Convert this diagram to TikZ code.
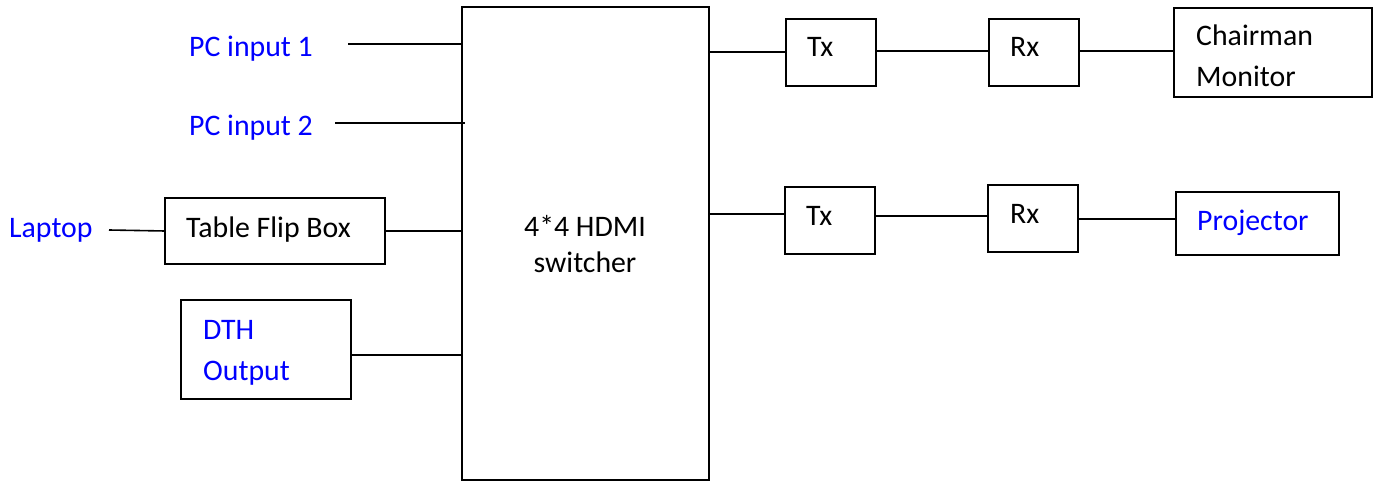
\documentclass[tikz,border=0pt]{standalone}
\usepackage{fontspec}
\setmainfont{Carlito}
\definecolor{lblblue}{RGB}{0,0,255}
\begin{document}
\begin{tikzpicture}[x=1pt,y=-1pt,
  box/.style={draw=black,line width=1.6pt,rectangle,inner sep=0pt,outer sep=0pt,anchor=north west},
  lbl/.style={anchor=base west,inner sep=0pt,font=\fontsize{29.8}{36}\selectfont},
  blue/.style={text=lblblue},
  wire/.style={line width=1.6pt,black}]
\useasboundingbox (0,0) rectangle (1380,481);
% boxes
\node[box,minimum width=247pt,minimum height=473pt] (sw) at (462,7) {};
\node[box,minimum width=220pt,minimum height=66pt] (tfb) at (165,198) {};
\node[box,minimum width=170pt,minimum height=99pt] (dth) at (181,300) {};
\node[box,minimum width=90pt,minimum height=67pt] (tx1) at (786,19) {};
\node[box,minimum width=90pt,minimum height=67pt] (tx2) at (785,187) {};
\node[box,minimum width=90pt,minimum height=67pt] (rx1) at (989,19) {};
\node[box,minimum width=90pt,minimum height=67pt] (rx2) at (988,185) {};
\node[box,minimum width=198pt,minimum height=89pt] (cm) at (1174,8) {};
\node[box,minimum width=163pt,minimum height=63pt] (pj) at (1176,192) {};
% labels
\node[lbl,blue] (pc1) at (189,57) {PC input 1};
\node[lbl,blue] (pc2) at (189,136) {PC input 2};
\node[lbl,blue] (lap) at (9,237) {Laptop};
\node[lbl] (tfbl) at (186,237) {Table Flip Box};
\node[lbl,blue] (dth1) at (203,339) {DTH};
\node[lbl,blue] (dth2) at (203,380) {Output};
\node[lbl,anchor=base] (swl1) at (585,236) {4*4 HDMI};
\node[lbl,anchor=base] (swl2) at (585,272) {switcher};
\node[lbl] (tx1l) at (807,57) {Tx};
\node[lbl] (tx2l) at (806,225) {Tx};
\node[lbl] (rx1l) at (1010,57) {Rx};
\node[lbl] (rx2l) at (1010,223) {Rx};
\node[lbl] (cml1) at (1196,46) {Chairman};
\node[lbl] (cml2) at (1196,87) {Monitor};
\node[lbl,blue] (pjl) at (1197,230) {Projector};
% free ends
\coordinate (p1e) at (348,44);
\coordinate (p2e) at (335,123);
\coordinate (lape) at (109,230);
% wires
\draw[wire] (p1e) -- (p1e -| sw.west);
\draw[wire] (p2e) -- ([xshift=3pt]p2e -| sw.west);
\draw[wire] (lape) -- (tfb.west |- 0,231);
\draw[wire] (tfb.east |- 0,231) -- (sw.west |- 0,231);
\draw[wire] (dth.east |- 0,355) -- (sw.west |- 0,355);
\draw[wire] (sw.east |- 0,52) -- (tx1.west |- 0,52);
\draw[wire] (tx1.east |- 0,51) -- (rx1.west |- 0,51);
\draw[wire] (rx1.east |- 0,51) -- (cm.west |- 0,51);
\draw[wire] (sw.east |- 0,214) -- (tx2.west |- 0,214);
\draw[wire] (tx2.east |- 0,216) -- (rx2.west |- 0,216);
\draw[wire] (rx2.east |- 0,219) -- (pj.west |- 0,219);
\end{tikzpicture}
\end{document}
